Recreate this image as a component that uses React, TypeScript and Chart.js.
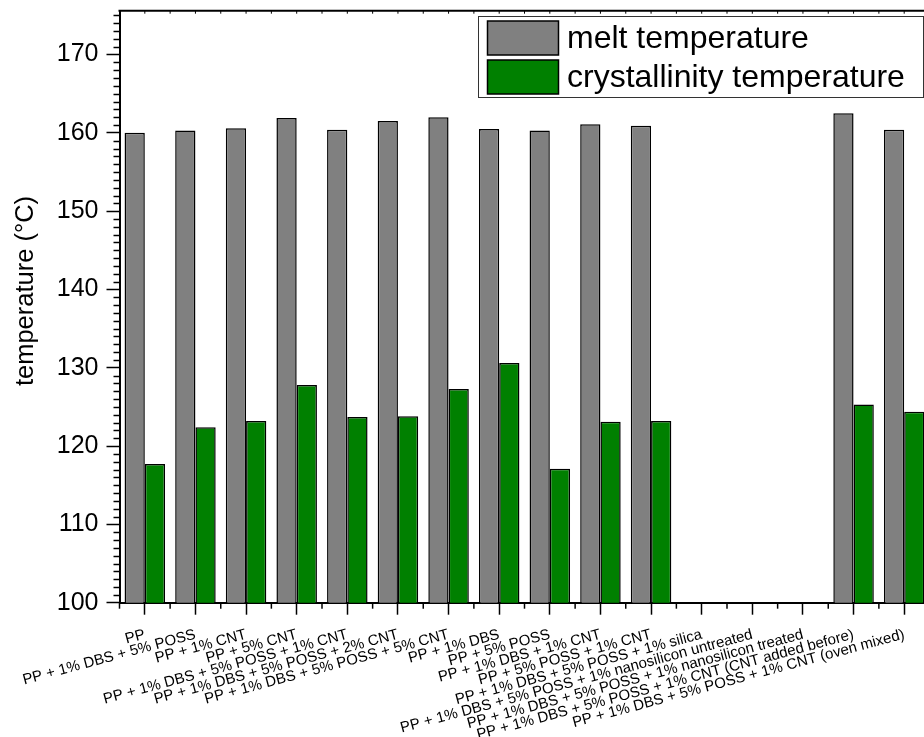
import React, { useEffect, useRef } from "react";
import { Chart, registerables } from "chart.js";

Chart.register(...registerables);

// Sample names along the x axis
const categories: string[] = [
  "PP",
  "PP + 1% DBS + 5% POSS",
  "PP + 1% CNT",
  "PP + 5% CNT",
  "PP + 1% DBS + 5% POSS + 1% CNT",
  "PP + 1% DBS + 5% POSS + 2% CNT",
  "PP + 1% DBS + 5% POSS + 5% CNT",
  "PP + 1% DBS",
  "PP + 5% POSS",
  "PP + 1% DBS + 1% CNT",
  "PP + 5% POSS + 1% CNT",
  "PP + 1% DBS + 5% POSS + 1% silica",
  "PP + 1% DBS + 5% POSS + 1% nanosilicon untreated",
  "PP + 1% DBS + 5% POSS + 1% nanosilicon treated",
  "PP + 1% DBS + 5% POSS + 1% CNT (CNT added before)",
  "PP + 1% DBS + 5% POSS + 1% CNT (oven mixed)",
];

// Melting peak temperature (°C)
const meltTemperature: (number | null)[] = [
  160.0, 160.3, 160.6, 161.9, 160.4, 161.5, 162.0, 160.5, 160.3, 161.1, 160.9,
  null, null, null, 162.5, 160.4,
];

// Crystallisation peak temperature (°C)
const crystallinityTemperature: (number | null)[] = [
  117.7, 122.4, 123.2, 127.8, 123.7, 123.8, 127.3, 130.6, 117.1, 123.1, 123.2,
  null, null, null, 125.3, 124.4,
];

const seriesLabels = ["melt temperature", "crystallinity temperature"];
const seriesColors = ["#808080", "#008000"];

const yMin = 100;
const yMax = 175.6;
const yMajorStep = 10;
const yTitle = "temperature (°C)";

const FONT = "'Liberation Sans', Arial, Helvetica, sans-serif";

const W = 940;
const H = 737;

function line(ctx: CanvasRenderingContext2D, x1: number, y1: number, x2: number, y2: number) {
  ctx.beginPath();
  ctx.moveTo(x1, y1);
  ctx.lineTo(x2, y2);
  ctx.stroke();
}

// Minor ticks, the mirrored top axis, the y title and the framed legend
const decorPlugin = {
  id: "decor",
  afterDraw(chart: any) {
    const { ctx, chartArea, scales } = chart;
    const xs = scales.x;
    const ys = scales.y;
    ctx.save();
    ctx.strokeStyle = "#000";
    ctx.lineWidth = 1.5;

    // minor y ticks every 1 °C
    for (let v = Math.ceil(ys.min); v <= ys.max; v++) {
      if (v % yMajorStep === 0) continue;
      const py = Math.round(ys.getPixelForValue(v)) + 0.5;
      line(ctx, chartArea.left - 6, py, chartArea.left, py);
    }

    // minor x ticks at category boundaries
    for (let i = 0; i <= categories.length; i++) {
      const px = xs.getPixelForValue(i - 0.5);
      line(ctx, px, chartArea.bottom, px, chartArea.bottom + 6);
    }

    // top axis line with small inward ticks
    ctx.lineWidth = 2;
    line(ctx, chartArea.left - 1, chartArea.top, chartArea.right, chartArea.top);
    ctx.lineWidth = 1;
    for (let i = 0; i <= categories.length * 2; i++) {
      const px = xs.getPixelForValue(i / 2 - 0.5);
      line(ctx, px, chartArea.top, px, chartArea.top + 3);
    }

    // y axis title
    ctx.save();
    ctx.translate(26, 291);
    ctx.rotate(-Math.PI / 2);
    ctx.font = `25.5px ${FONT}`;
    ctx.fillStyle = "#000";
    ctx.textAlign = "center";
    ctx.textBaseline = "middle";
    ctx.fillText(yTitle, 0, 0);
    ctx.restore();

    // legend
    const lx = 478, ly = 16, lw = 445, lh = 81;
    ctx.fillStyle = "#fff";
    ctx.fillRect(lx, ly, lw, lh);
    ctx.strokeStyle = "#333";
    ctx.lineWidth = 1;
    ctx.strokeRect(lx + 0.5, ly + 0.5, lw, lh);
    chart.data.datasets.forEach((ds: any, i: number) => {
      const sy = 21 + i * 39;
      ctx.fillStyle = ds.backgroundColor;
      ctx.fillRect(487.5, sy, 71, 34);
      ctx.strokeStyle = "#000";
      ctx.lineWidth = 1.5;
      ctx.strokeRect(487.5, sy, 71, 34);
      ctx.fillStyle = "#000";
      ctx.font = `32px ${FONT}`;
      ctx.textAlign = "left";
      ctx.textBaseline = "middle";
      ctx.fillText(ds.label, 567, sy + 18);
    });

    ctx.restore();
  },
};

export default function App() {
  const canvasRef = useRef<HTMLCanvasElement | null>(null);

  useEffect(() => {
    const canvas = canvasRef.current;
    if (!canvas) return;
    const chart = new Chart(canvas, {
      type: "bar",
      data: {
        labels: categories,
        datasets: [
          {
            label: seriesLabels[0],
            data: meltTemperature,
            backgroundColor: seriesColors[0],
            borderColor: "#000",
            borderWidth: 1.5,
            borderSkipped: false,
          },
          {
            label: seriesLabels[1],
            data: crystallinityTemperature,
            backgroundColor: seriesColors[1],
            borderColor: "#000",
            borderWidth: 1.5,
            borderSkipped: false,
          },
        ],
      },
      options: {
        responsive: false,
        animation: false,
        devicePixelRatio: 1,
        layout: { padding: { top: 10.7, left: 0, right: 10.5, bottom: 0 } },
        datasets: { bar: { categoryPercentage: 0.8, barPercentage: 1.0 } },
        plugins: {
          legend: { display: false },
          tooltip: { enabled: false },
        },
        scales: {
          x: {
            offset: true,
            grid: {
              offset: false,
              drawOnChartArea: false,
              drawTicks: true,
              tickLength: 12,
              tickWidth: 1.5,
              tickColor: "#000",
            },
            border: { display: true, color: "#000", width: 2 },
            ticks: {
              autoSkip: false,
              minRotation: 15,
              maxRotation: 15,
              padding: 11,
              color: "#000",
              font: { family: FONT, size: 15 },
            },
            afterFit: (scale: any) => {
              scale.height = H - 602.7;
            },
          },
          y: {
            min: yMin,
            max: yMax,
            grid: {
              drawOnChartArea: false,
              drawTicks: true,
              tickLength: 13,
              tickWidth: 1.5,
              tickColor: "#000",
            },
            border: { display: true, color: "#000", width: 2 },
            ticks: {
              stepSize: yMajorStep,
              includeBounds: false,
              padding: 8,
              color: "#000",
              font: { family: FONT, size: 25 },
            },
            afterFit: (scale: any) => {
              scale.width = 119.5;
              scale.paddingTop = 0;
              scale.paddingBottom = 0;
            },
          },
        },
      },
      plugins: [decorPlugin],
    });
    return () => chart.destroy();
  }, []);

  return (
    <div
      style={{
        position: "fixed",
        left: 0,
        top: 0,
        width: 924,
        height: 737,
        overflow: "hidden",
        background: "#fff",
      }}
    >
      <canvas ref={canvasRef} width={W} height={H} style={{ display: "block" }} />
    </div>
  );
}
